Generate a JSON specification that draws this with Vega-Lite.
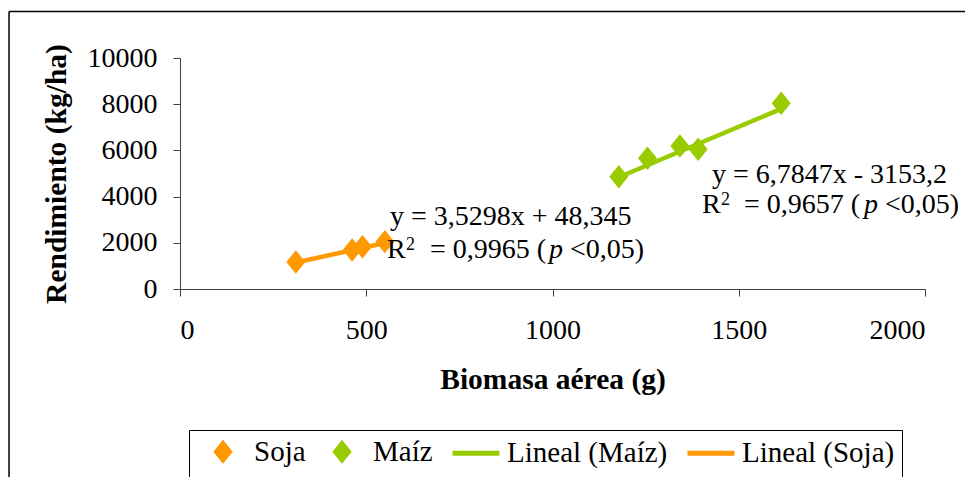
{
  "$schema": "https://vega.github.io/schema/vega-lite/v6.json",
  "width": 745,
  "height": 231,
  "autosize": {"type": "none"},
  "padding": {"left": 180, "top": 58, "right": 40, "bottom": 188},
  "background": "white",
  "config": {
    "font": "Liberation Serif",
    "view": {"stroke": null},
    "axis": {
      "grid": false,
      "domainColor": "#404040",
      "tickColor": "#404040",
      "tickSize": 7,
      "labelFont": "Liberation Serif",
      "labelFontSize": 28,
      "labelColor": "black",
      "titleFont": "Liberation Serif",
      "titleFontSize": 29.5,
      "titleFontWeight": "bold",
      "titleColor": "black"
    },
    "legend": {
      "orient": "none",
      "legendX": 9,
      "legendY": 372,
      "direction": "horizontal",
      "columns": 4,
      "columnPadding": 9,
      "padding": 7,
      "strokeColor": "black",
      "labelFont": "Liberation Serif",
      "labelFontSize": 29,
      "labelColor": "black",
      "labelLimit": 400,
      "labelOffset": 16.5,
      "symbolOffset": 12.5,
      "symbolSize": 400,
      "symbolStrokeWidth": 5,
      "symbolOpacity": 1,
      "title": null
    }
  },
  "datasets": {
    "puntos": [
      {"serie": "Soja", "biomasa": 311, "rendimiento": 1170},
      {"serie": "Soja", "biomasa": 462, "rendimiento": 1690},
      {"serie": "Soja", "biomasa": 490, "rendimiento": 1830},
      {"serie": "Soja", "biomasa": 550, "rendimiento": 2050},
      {"serie": "Maíz", "biomasa": 1178, "rendimiento": 4860},
      {"serie": "Maíz", "biomasa": 1255, "rendimiento": 5660},
      {"serie": "Maíz", "biomasa": 1342, "rendimiento": 6190},
      {"serie": "Maíz", "biomasa": 1391, "rendimiento": 6050},
      {"serie": "Maíz", "biomasa": 1614, "rendimiento": 8040}
    ],
    "ajuste": [
      {"serie": "Lineal (Soja)", "biomasa": 311, "rendimiento": 1146.1},
      {"serie": "Lineal (Soja)", "biomasa": 550, "rendimiento": 1989.7},
      {"serie": "Lineal (Maíz)", "biomasa": 1178, "rendimiento": 4839.2},
      {"serie": "Lineal (Maíz)", "biomasa": 1614, "rendimiento": 7797.3}
    ],
    "ecuaciones": [
      {"texto": "y = 3,5298x + 48,345", "biomasa": 563.8, "rendimiento": 2771},
      {"texto": "R", "biomasa": 555.7, "rendimiento": 1342},
      {"texto": "= 0,9965 (", "biomasa": 671.1, "rendimiento": 1342},
      {"texto": "<0,05)", "biomasa": 1047, "rendimiento": 1342},
      {"texto": "y = 6,7847x - 3153,2", "biomasa": 1428.2, "rendimiento": 4589},
      {"texto": "R", "biomasa": 1401.3, "rendimiento": 3290},
      {"texto": "= 0,9657 (", "biomasa": 1514, "rendimiento": 3290},
      {"texto": "<0,05)", "biomasa": 1892.6, "rendimiento": 3290}
    ],
    "exponentes": [
      {"texto": "2", "biomasa": 607, "rendimiento": 1688},
      {"texto": "2", "biomasa": 1452.6, "rendimiento": 3636}
    ],
    "cursiva": [
      {"texto": "p", "biomasa": 990.6, "rendimiento": 1342},
      {"texto": "p", "biomasa": 1836.2, "rendimiento": 3290}
    ]
  },
  "layer": [
    {
      "data": {"values": [{"borde": "izquierdo"}]},
      "mark": {"type": "rule", "color": "black", "strokeWidth": 1.5, "clip": false},
      "encoding": {
        "x": {"datum": -459, "type": "quantitative"},
        "y": {"datum": 12013, "type": "quantitative"},
        "y2": {"datum": -9000}
      }
    },
    {
      "data": {"values": [{"borde": "superior"}]},
      "mark": {"type": "rule", "color": "black", "strokeWidth": 1.5, "clip": false},
      "encoding": {
        "x": {"datum": -459, "type": "quantitative"},
        "x2": {"datum": 2300},
        "y": {"datum": 12013, "type": "quantitative"}
      }
    },
    {
      "data": {"name": "ajuste"},
      "mark": {"type": "line", "strokeWidth": 4.5},
      "encoding": {
        "x": {
          "field": "biomasa",
          "type": "quantitative",
          "scale": {"domain": [0, 2000], "nice": false},
          "axis": {
            "title": "Biomasa aérea (g)",
            "values": [0, 500, 1000, 1500, 2000],
            "format": "d",
            "labelPadding": 20,
            "titlePadding": 21
          }
        },
        "y": {
          "field": "rendimiento",
          "type": "quantitative",
          "scale": {"domain": [0, 10000], "nice": false},
          "axis": {
            "title": "Rendimiento (kg/ha)",
            "values": [0, 2000, 4000, 6000, 8000, 10000],
            "format": "d",
            "labelPadding": 16,
            "titlePadding": 16
          }
        },
        "color": {
          "field": "serie",
          "type": "nominal",
          "scale": {
            "domain": ["Soja", "Maíz", "Lineal (Maíz)", "Lineal (Soja)"],
            "range": ["#FF9900", "#99CC00", "#99CC00", "#FF9900"]
          }
        },
        "detail": {"field": "serie"}
      }
    },
    {
      "data": {"name": "puntos"},
      "mark": {"type": "point", "filled": true, "size": 855, "opacity": 1, "strokeWidth": 0},
      "encoding": {
        "x": {"field": "biomasa", "type": "quantitative"},
        "y": {"field": "rendimiento", "type": "quantitative"},
        "color": {"field": "serie", "type": "nominal"},
        "shape": {
          "field": "serie",
          "type": "nominal",
          "scale": {
            "domain": ["Soja", "Maíz", "Lineal (Maíz)", "Lineal (Soja)"],
            "range": [
              "M-0.65,0L0,-0.8L0.65,0L0,0.8Z",
              "M-0.65,0L0,-0.8L0.65,0L0,0.8Z",
              "M-2.35,0H2.35",
              "M-2.35,0H2.35"
            ]
          }
        }
      }
    },
    {
      "data": {"name": "ecuaciones"},
      "mark": {"type": "text", "align": "left", "baseline": "alphabetic", "font": "Liberation Serif", "fontSize": 28, "color": "black"},
      "encoding": {
        "x": {"field": "biomasa", "type": "quantitative"},
        "y": {"field": "rendimiento", "type": "quantitative"},
        "text": {"field": "texto"}
      }
    },
    {
      "data": {"name": "exponentes"},
      "mark": {"type": "text", "align": "left", "baseline": "alphabetic", "font": "Liberation Serif", "fontSize": 18, "color": "black"},
      "encoding": {
        "x": {"field": "biomasa", "type": "quantitative"},
        "y": {"field": "rendimiento", "type": "quantitative"},
        "text": {"field": "texto"}
      }
    },
    {
      "data": {"name": "cursiva"},
      "mark": {"type": "text", "align": "left", "baseline": "alphabetic", "font": "Liberation Serif", "fontSize": 28, "fontStyle": "italic", "color": "black"},
      "encoding": {
        "x": {"field": "biomasa", "type": "quantitative"},
        "y": {"field": "rendimiento", "type": "quantitative"},
        "text": {"field": "texto"}
      }
    }
  ]
}
